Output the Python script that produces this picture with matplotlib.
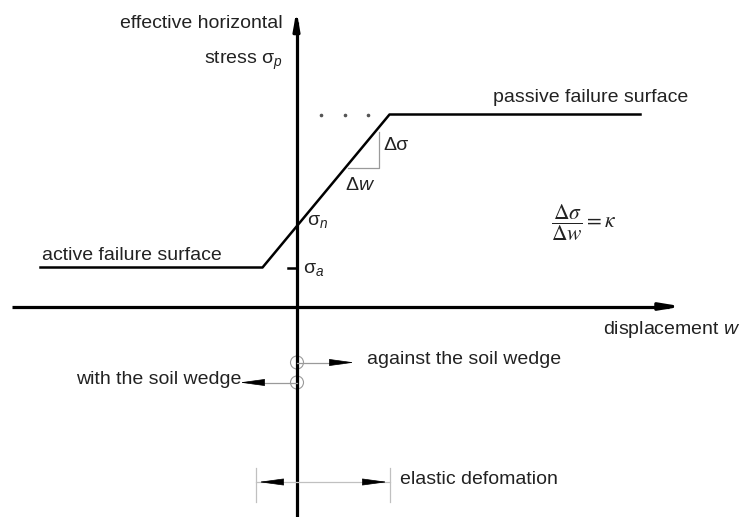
import matplotlib
matplotlib.use("Agg")
import matplotlib.pyplot as plt
from matplotlib.patches import Circle

plt.rcParams['font.family'] = ['Liberation Sans', 'DejaVu Sans']
plt.rcParams['mathtext.fontset'] = 'custom'
plt.rcParams['mathtext.rm'] = 'Liberation Sans'
plt.rcParams['mathtext.it'] = 'Liberation Sans:italic'

# mobilised stress vs wall displacement (origin = axis crossing)
disp = [-256, -34, 93, 344]
stress = [39, 39, 192, 192]
sigma_a = 39
dots_w = [24, 48, 71]
# slope triangle
tri_w = [51, 82, 82]
tri_s = [139, 139, 175]
# elastic range shown under the axis
elastic_w = [-40.5, 93.5]
elastic_s = -175.5
# direction markers
against_s, with_s = -56, -76

TXT = '#222222'
GREY = '#9a9a9a'
FS = 14

fig = plt.figure(figsize=(7.4, 5.17), dpi=100)
ax = fig.add_axes([0, 0, 1, 1])
ax.set_xlim(-296.5, 443.5)
ax.set_ylim(-210.5, 306.5)
ax.axis('off')

# axes
ax.plot([-284.5, 372], [0, 0], color='black', lw=2.3, solid_capstyle='butt')
ax.annotate('', xy=(388.5, 0), xytext=(362, 0),
            arrowprops=dict(arrowstyle='-|>,head_length=1.2,head_width=0.2', color='black', lw=2.3))
ax.plot([0, 0], [-210.5, 285], color='black', lw=2.3, solid_capstyle='butt')
ax.annotate('', xy=(0, 298.5), xytext=(0, 278),
            arrowprops=dict(arrowstyle='-|>,head_length=1.0,head_width=0.18', color='black', lw=2.3))

# failure curve
ax.plot(disp, stress, color='black', lw=1.8)
ax.plot([-9, 0], [sigma_a, sigma_a], color='black', lw=1.8)
ax.plot(dots_w, [stress[-1]] * len(dots_w), ls='none', marker='o', ms=1.6, color='#555555')
ax.plot(tri_w, tri_s, color=GREY, lw=0.9)

# labels
ax.text(-14, 279, 'effective horizontal', ha='right', va='baseline', fontsize=FS, color=TXT)
ax.text(-14, 242, r'stress σ$_p$', ha='right', va='baseline', fontsize=FS, color=TXT)
ax.text(196.5, 204, 'passive failure surface', ha='left', va='baseline', fontsize=FS, color=TXT)
ax.text(-254.5, 47, 'active failure surface', ha='left', va='baseline', fontsize=FS, color=TXT)
ax.text(10.5, 82, r'σ$_n$', ha='left', va='baseline', fontsize=FS, color=TXT)
ax.text(6.5, 34, r'σ$_a$', ha='left', va='baseline', fontsize=FS, color=TXT)
ax.text(86.5, 156, 'Δσ', ha='left', va='baseline', fontsize=FS, color=TXT)
ax.text(48.5, 116, r'Δ$w$', ha='left', va='baseline', fontsize=FS, color=TXT)
ax.text(254.5, 84, r'$\dfrac{\Delta\sigma}{\Delta w} = \kappa$', ha='left', va='center',
        fontsize=15.5, color=TXT, math_fontfamily='stix')
ax.text(306.5, -28, r'displacement $w$', ha='left', va='baseline', fontsize=FS, color=TXT)

# direction of wall movement
for s in (against_s, with_s):
    ax.add_patch(Circle((0.5, s), 6.5, fill=False, ec=GREY, lw=0.8))
ax.plot([0.5, 45], [against_s, against_s], color=GREY, lw=0.9)
ax.annotate('', xy=(60.5, against_s), xytext=(36.5, against_s),
            arrowprops=dict(arrowstyle='-|>,head_length=1.6,head_width=0.22', color='black', lw=0.5))
ax.text(70.5, -58, 'against the soil wedge', ha='left', va='baseline', fontsize=FS, color=TXT)
ax.plot([0.5, -45], [with_s, with_s], color=GREY, lw=0.9)
ax.annotate('', xy=(-59.5, with_s), xytext=(-35.5, with_s),
            arrowprops=dict(arrowstyle='-|>,head_length=1.6,head_width=0.22', color='black', lw=0.5))
ax.text(-55, -78, 'with the soil wedge', ha='right', va='baseline', fontsize=FS, color=TXT)

# elastic deformation range
for w in elastic_w:
    ax.plot([w, w], [elastic_s + 14, elastic_s - 20], color='#c0c0c0', lw=0.9)
ax.plot(elastic_w, [elastic_s, elastic_s], color='#c0c0c0', lw=0.9)
ax.annotate('', xy=(elastic_w[0], elastic_s), xytext=(elastic_w[0] + 24, elastic_s),
            arrowprops=dict(arrowstyle='-|>,head_length=1.6,head_width=0.22', color='black', lw=0.5))
ax.annotate('', xy=(elastic_w[1], elastic_s), xytext=(elastic_w[1] - 24, elastic_s),
            arrowprops=dict(arrowstyle='-|>,head_length=1.6,head_width=0.22', color='black', lw=0.5))
ax.text(103.5, -177, 'elastic defomation', ha='left', va='baseline', fontsize=FS, color=TXT)

fig.savefig('out.png', dpi=100, facecolor='white')
